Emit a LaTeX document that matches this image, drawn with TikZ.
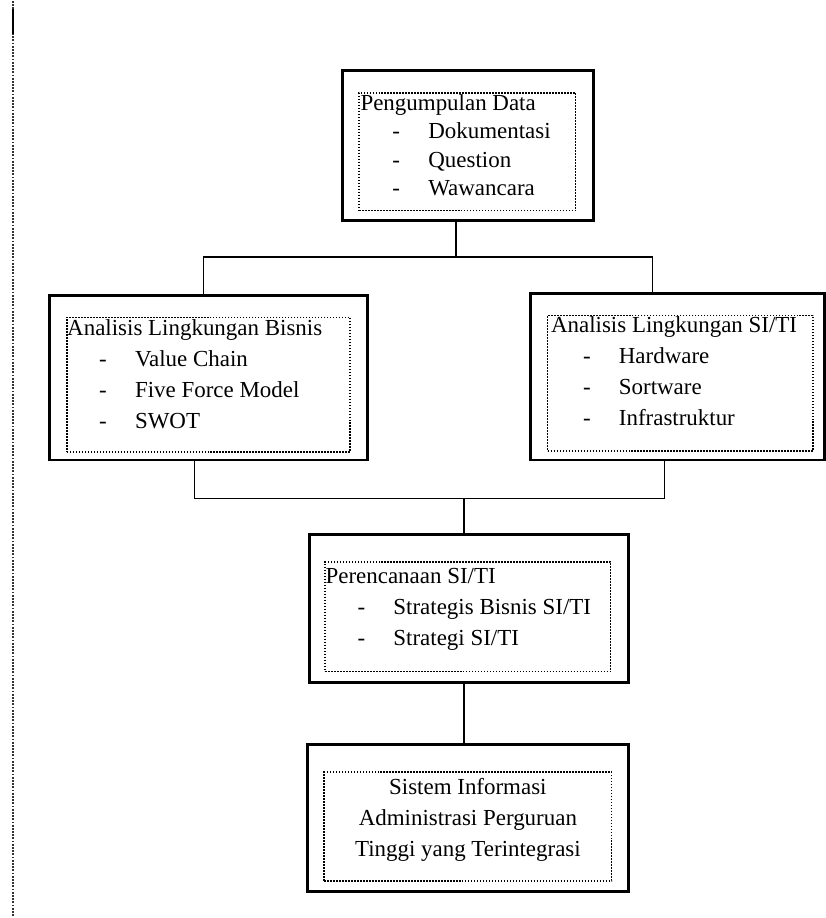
\documentclass[tikz,border=0pt]{standalone}
\usepackage{fontspec}
\setmainfont{Liberation Serif}
\usetikzlibrary{positioning,calc}

\newcommand{\butir}[1]{\hspace*{32pt}\makebox[36pt][l]{-}#1}

\begin{document}
\begin{tikzpicture}[
  x=1pt, y=-1pt,
  kotak/.style={draw, line width=3pt, inner sep=0pt},
  isi/.style={draw, line width=1.6pt, dash pattern=on 1.6pt off 1.4pt, inner sep=0pt},
  teks/.style={inner sep=0pt, align=left, font=\fontsize{23}{31}\selectfont},
  garis/.style={line width=1.6pt}
]
\fill[white] (0,0) rectangle (822,918);
% garis tepi kiri
\draw[line width=2.2pt, dash pattern=on 1.8pt off 1.4pt, black!80] (13,0) -- (13,918);
\draw[line width=2.5pt] (13,8) -- (13,33);

% kotak luar
\node[kotak, minimum width=252pt, minimum height=150pt] (kumpul) at (469,145) {};
\node[kotak, minimum width=318pt, minimum height=165pt] (bisnis) at (209,377.5) {};
\node[kotak, minimum width=294pt, minimum height=167pt] (sisti) at (679,376.5) {};
\node[kotak, minimum width=320pt, minimum height=148pt] (rencana) at (470,609) {};
\node[kotak, minimum width=322pt, minimum height=148pt] (sistem) at (469,819) {};

% kotak titik-titik
\node[isi, minimum width=217pt, minimum height=118pt] (kumpul-isi) at (468.5,151) {};
\node[isi, minimum width=284pt, minimum height=135pt] (bisnis-isi) at (209,384.5) {};
\node[isi, minimum width=266pt, minimum height=136pt] (sisti-isi) at (682,383) {};
\node[isi, minimum width=286pt, minimum height=110pt] (rencana-isi) at (469,617) {};
\node[isi, minimum width=288pt, minimum height=109pt] (sistem-isi) at (469,827.5) {};

% teks
\node[teks, font=\fontsize{23}{28.5}\selectfont, anchor=north west] (kumpul-teks)
  at ($(kumpul-isi.north west)+(2,2)$)
  {Pengumpulan Data\\ \butir{Dokumentasi}\\ \butir{Question}\\ \butir{Wawancara}};
\node[teks, anchor=north west] (bisnis-teks) at ($(bisnis-isi.north west)+(1,3)$)
  {Analisis Lingkungan Bisnis\\ \butir{Value Chain}\\ \butir{Five Force Model}\\ \butir{SWOT}};
\node[teks, anchor=north west] (sisti-teks) at ($(sisti-isi.north west)+(4,2)$)
  {Analisis Lingkungan SI/TI\\ \butir{Hardware}\\ \butir{Sortware}\\ \butir{Infrastruktur}};
\node[teks, anchor=north west] (rencana-teks) at ($(rencana-isi.north west)+(1,7)$)
  {Perencanaan SI/TI\\ \butir{Strategis Bisnis SI/TI}\\ \butir{Strategi SI/TI}};
\node[teks, align=center, anchor=north] (sistem-teks) at ($(sistem-isi.north)+(0,7)$)
  {Sistem Informasi\\ Administrasi Perguruan\\ Tinggi yang Terintegrasi};

% penghubung
\draw[garis] ($(kumpul.south)+(-12,0)$) -- ++(0,35) coordinate (cabang);
\draw[garis] ($(bisnis.north)+(-5,0)$) |- (cabang) -| ($(sisti.north)+(-25,0)$);
\draw[garis] ($(bisnis.south)+(-14,0)$) -- ++(0,37) coordinate (gabung) -| ($(sisti.south)+(-13,0)$);
\draw[garis] ($(rencana.north)+(-5,0)$) -- (gabung -| {$(rencana.north)+(-5,0)$});
\draw[garis] ($(rencana.south)+(-5,0)$) -- ($(sistem.north)+(-4,0)$);
\end{tikzpicture}
\end{document}
